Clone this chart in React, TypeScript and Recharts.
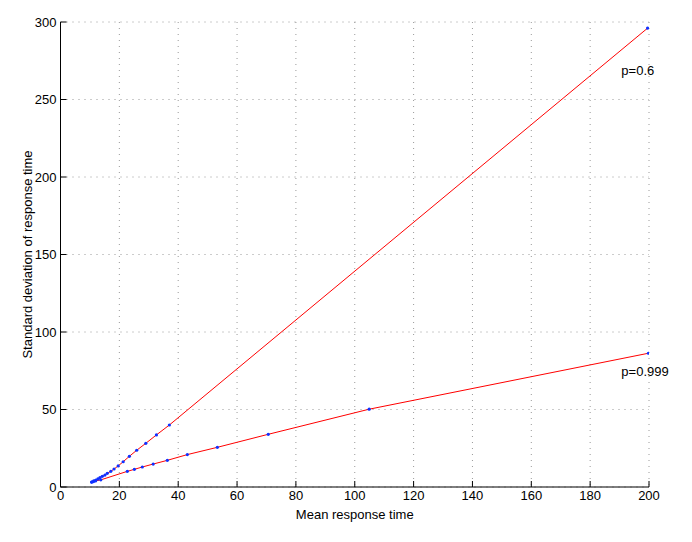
import React from 'react';
import { ComposedChart, Line, XAxis, YAxis, CartesianGrid, ReferenceDot } from 'recharts';

const p06Mean = [10.6, 11.3, 12.0, 12.7, 13.4, 14.2, 15.1, 15.9, 17.1, 18.2, 19.6, 21.3, 23.4, 25.9, 29.0, 32.6, 37.0, 199.5];
const p06Sd = [3.2, 3.9, 4.5, 5.2, 6.1, 6.9, 7.7, 8.8, 10.1, 11.6, 13.6, 16.3, 19.8, 23.7, 28.2, 33.6, 40.0, 296];

const p999Mean = [10.6, 11.2, 11.9, 13.7, 22.7, 25.1, 27.8, 31.5, 36.3, 43.1, 53.3, 70.6, 104.9, 199.8];
const p999Sd = [3.2, 3.5, 3.9, 4.6, 10.1, 11.4, 12.9, 14.8, 17.2, 20.9, 25.6, 34.0, 50.2, 86.3];

const xTicks = [0, 20, 40, 60, 80, 100, 120, 140, 160, 180, 200];
const yTicks = [0, 50, 100, 150, 200, 250, 300];

const seriesLabels = ['p=0.6', 'p=0.999'];
const labelX = [190.6, 190.6];
const labelY = [269, 74.7];

const p06 = p06Mean.map((m, i) => ({ x: m, y: p06Sd[i] }));
const p999 = p999Mean.map((m, i) => ({ x: m, y: p999Sd[i] }));

const FONT = '"Liberation Sans", Arial, Helvetica, sans-serif';
const tickStyle = { fontSize: 13, fill: '#000', fontFamily: FONT };

const dot = (props: any) => {
  const { cx, cy, key } = props;
  return <circle key={key} cx={cx} cy={cy} r={1.6} fill="#1030ff" stroke="none" />;
};

export default function App() {
  return (
    <div style={{ width: 684, height: 530, background: '#fff' }}>
      <ComposedChart
        width={684}
        height={530}
        margin={{ top: 14, right: 43, bottom: 0, left: 0 }}
        style={{ fontFamily: FONT }}
      >
        <CartesianGrid
          stroke="#999"
          strokeDasharray="1 5"
          xAxisId="b"
          yAxisId="l"
        />
        <XAxis
          xAxisId="b"
          type="number"
          dataKey="x"
          domain={[0, 200]}
          ticks={xTicks}
          interval={0}
          allowDataOverflow
          height={51}
          tickSize={-6}
          tickMargin={10}
          tick={tickStyle}
          stroke="#000"
          axisLine={{ stroke: '#000' }}
          tickLine={{ stroke: '#000' }}
          label={{ value: 'Mean response time', position: 'insideBottom', offset: 19, style: { fontSize: 13, fill: '#000', fontFamily: FONT } }}
        />
        <XAxis
          xAxisId="t"
          orientation="top"
          type="number"
          dataKey="x"
          domain={[0, 200]}
          ticks={xTicks}
          interval={0}
          height={0}
          tickSize={-6}
          tick={false}
          axisLine={{ stroke: '#000' }}
          tickLine={{ stroke: '#000' }}
        />
        <YAxis
          yAxisId="l"
          type="number"
          dataKey="y"
          domain={[0, 300]}
          ticks={yTicks}
          interval={0}
          allowDataOverflow
          width={52.5}
          tickSize={-6}
          tickMargin={10}
          tick={tickStyle}
          axisLine={{ stroke: '#000' }}
          tickLine={{ stroke: '#000' }}
          label={{ value: 'Standard deviation of response time', angle: -90, position: 'insideLeft', offset: 19, style: { textAnchor: 'middle', fontSize: 13, fill: '#000', fontFamily: FONT } }}
        />
        <YAxis
          yAxisId="r"
          orientation="right"
          type="number"
          dataKey="y"
          domain={[0, 300]}
          ticks={yTicks}
          interval={0}
          width={0}
          tickSize={-6}
          tick={false}
          axisLine={{ stroke: '#000' }}
          tickLine={{ stroke: '#000' }}
        />
        <Line
          xAxisId="b"
          yAxisId="l"
          data={p06}
          dataKey="y"
          type="linear"
          stroke="#ff0000"
          strokeWidth={1}
          dot={dot}
          activeDot={false}
          isAnimationActive={false}
        />
        <Line
          xAxisId="b"
          yAxisId="l"
          data={p999}
          dataKey="y"
          type="linear"
          stroke="#ff0000"
          strokeWidth={1}
          dot={dot}
          activeDot={false}
          isAnimationActive={false}
        />
        {seriesLabels.map((s, i) => (
          <ReferenceDot
            key={s}
            xAxisId="b"
            yAxisId="l"
            x={labelX[i]}
            y={labelY[i]}
            r={0}
            fill="none"
            stroke="none"
            ifOverflow="visible"
            label={{ value: s, position: 'right', offset: 0, style: { fontSize: 13, fill: '#000', fontFamily: FONT } }}
          />
        ))}
      </ComposedChart>
    </div>
  );
}
